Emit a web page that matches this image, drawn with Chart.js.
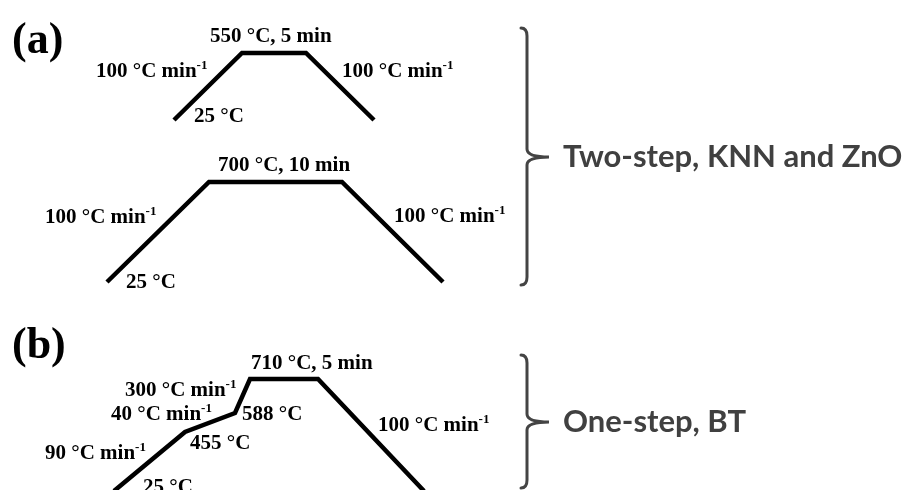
<!DOCTYPE html>
<html>
<head>
<meta charset="utf-8">
<script src="https://cdn.jsdelivr.net/npm/chart.js@4/dist/chart.umd.min.js"></script>
<style>
  html, body { margin: 0; padding: 0; background: #fff; }
  canvas { display: block; }
</style>
</head>
<body>
<canvas id="profile-chart" width="914" height="490"></canvas>
<script>
// Heating profiles (drawing units: x right, y down)
const profileA_x = [174, 242, 306, 374];
const profileA_y = [120, 53, 53, 120];
const profileB_x = [107, 209, 342, 443];
const profileB_y = [282, 182, 182, 282];
const profileC_x = [114, 185, 235, 250, 318, 424];
const profileC_y = [491, 432, 413, 379, 379, 491];

// Curly braces: y top / tip / bottom
const braceTop = [28, 355];
const braceTip = [157, 422];
const braceBottom = [285, 488];
const braceText = ['Two-step, KNN and ZnO', 'One-step, BT'];

// Step labels: text, superscript, left x, baseline y
const stepLabels = [
  ['550 °C, 5 min', '', 210, 42],
  ['100 °C min', '-1', 96, 77],
  ['100 °C min', '-1', 342, 77],
  ['25 °C', '', 194, 122],
  ['700 °C, 10 min', '', 218, 171],
  ['100 °C min', '-1', 45, 223],
  ['100 °C min', '-1', 394, 222],
  ['25 °C', '', 126, 288],
  ['710 °C, 5 min', '', 251, 369],
  ['300 °C min', '-1', 125, 396],
  ['40 °C min', '-1', 111, 420],
  ['588 °C', '', 242, 420],
  ['455 °C', '', 190, 449],
  ['90 °C min', '-1', 45, 459],
  ['25 °C', '', 143, 493],
  ['100 °C min', '-1', 378, 431]
];
const panelLabels = [['(a)', 12, 53], ['(b)', 12, 358]];

const toPoints = (xs, ys) => xs.map((x, i) => ({ x, y: ys[i] }));

const serif = '"Liberation Serif", "Times New Roman", serif';

const annotations = {
  id: 'annotations',
  afterDatasetsDraw(chart) {
    const { ctx, scales: { x, y } } = chart;
    ctx.save();
    ctx.fillStyle = '#000';
    ctx.textBaseline = 'alphabetic';
    ctx.textAlign = 'left';

    panelLabels.forEach(([text, px, py]) => {
      ctx.font = `bold 44px ${serif}`;
      ctx.fillText(text, x.getPixelForValue(px), y.getPixelForValue(py));
    });

    stepLabels.forEach(([text, sup, px, py]) => {
      const left = x.getPixelForValue(px);
      const base = y.getPixelForValue(py);
      ctx.font = `bold 21px ${serif}`;
      ctx.fillText(text, left, base);
      if (sup) {
        const w = ctx.measureText(text).width;
        ctx.font = `bold 13px ${serif}`;
        ctx.fillText(sup, left + w, base - 8);
      }
    });

    // braces
    ctx.strokeStyle = '#444';
    ctx.lineWidth = 3;
    ctx.lineCap = 'round';
    braceTop.forEach((top, i) => {
      const x0 = x.getPixelForValue(521);
      const x1 = x.getPixelForValue(527);
      const x2 = x.getPixelForValue(549);
      const t = y.getPixelForValue(top);
      const m = y.getPixelForValue(braceTip[i]);
      const b = y.getPixelForValue(braceBottom[i]);
      const r = 8;
      ctx.beginPath();
      ctx.moveTo(x0, t);
      ctx.quadraticCurveTo(x1, t, x1, t + r);
      ctx.lineTo(x1, m - r);
      ctx.quadraticCurveTo(x1, m, x2, m);
      ctx.quadraticCurveTo(x1, m, x1, m + r);
      ctx.lineTo(x1, b - r);
      ctx.quadraticCurveTo(x1, b, x0, b);
      ctx.stroke();

      ctx.fillStyle = '#404040';
      ctx.font = 'bold 31px Lato, "Open Sans", sans-serif';
      ctx.textBaseline = 'middle';
      ctx.fillText(braceText[i], x.getPixelForValue(563), m);
      ctx.textBaseline = 'alphabetic';
      ctx.fillStyle = '#000';
    });
    ctx.restore();
  }
};

const lineStyle = {
  borderColor: '#000',
  borderWidth: 4.5,
  pointRadius: 0,
  showLine: true,
  fill: false,
  tension: 0,
  borderJoinStyle: 'miter',
  borderCapStyle: 'butt'
};

new Chart(document.getElementById('profile-chart'), {
  type: 'scatter',
  data: {
    datasets: [
      { ...lineStyle, label: 'Step 1', data: toPoints(profileA_x, profileA_y) },
      { ...lineStyle, label: 'Step 2', data: toPoints(profileB_x, profileB_y) },
      { ...lineStyle, label: 'One step', data: toPoints(profileC_x, profileC_y) }
    ]
  },
  options: {
    responsive: false,
    animation: false,
    devicePixelRatio: 1,
    layout: { padding: 0 },
    plugins: {
      legend: { display: false },
      tooltip: { enabled: false }
    },
    scales: {
      x: { type: 'linear', min: 0, max: 914, display: false },
      y: { type: 'linear', min: 0, max: 490, reverse: true, display: false }
    }
  },
  plugins: [annotations]
});
</script>
</body>
</html>
